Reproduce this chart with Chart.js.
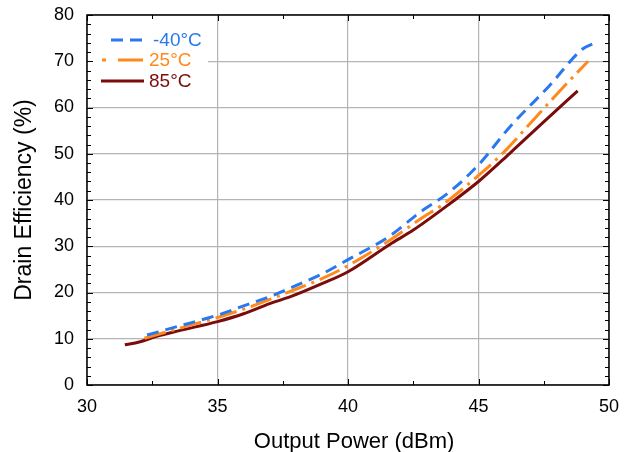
<!DOCTYPE html>
<html>
<head>
<meta charset="utf-8">
<script src="https://cdn.jsdelivr.net/npm/chart.js@4.4.1/dist/chart.umd.min.js"></script>
<style>
  html, body { margin: 0; padding: 0; background: #fff; }
  #wrap { width: 633px; height: 452px; }
</style>
</head>
<body>
<div id="wrap"><canvas id="ChartEff"></canvas></div>
<script>
// output power (dBm) and drain efficiency (%) per temperature
const powerCold = [32.3, 33.5, 35, 36, 37, 38, 39, 40, 41.6, 42.7, 43.9, 45, 46.2, 47.7, 49.0, 49.4];
const effCold   = [10.8, 12.7, 15.1, 17.1, 19.1, 21.5, 24.0, 27.1, 32.2, 37.1, 41.8, 47.6, 55.8, 64.6, 72.7, 73.8];

const powerRoom = [32.2, 33.5, 35, 36, 37, 38, 39, 40, 41.6, 42.8, 43.6, 45, 46, 47.1, 48.4, 49.2];
const effRoom   = [10.1, 12.2, 14.6, 16.4, 18.5, 20.7, 23.0, 25.8, 31.3, 36.0, 38.9, 45.3, 50.5, 57.3, 65.3, 70.0];

const powerHot = [31.45, 32.0, 32.6, 33.5, 35, 36, 37, 37.8, 39, 40, 41.6, 42.5, 43.9, 45, 46.2, 47.5, 48.8];
const effHot   = [8.7, 9.3, 10.4, 11.7, 13.7, 15.4, 17.6, 19.1, 21.9, 24.5, 30.4, 33.5, 39.2, 44.0, 50.1, 56.9, 63.6];

const seriesNames = ['-40°C', '25°C', '85°C'];
const xTicks = [30, 35, 40, 45, 50];
const yTicks = [0, 10, 20, 30, 40, 50, 60, 70, 80];

const FONT = '"Liberation Sans", Arial, sans-serif';
const colCold = '#2a78f0';
const colRoom = '#ff8a1c';
const colHot = '#7a0c0c';
const dashCold = [12, 7];
const dashRoom = [22, 6, 3, 6];

function pts(xs, ys) {
    return xs.map((x, i) => ({ x: x, y: ys[i] }));
}

// box, inward ticks and the legend inside the plot
const frame = {
    id: 'frame',
    afterDatasetsDraw(chart) {
        const ctx = chart.ctx;
        const a = chart.chartArea;
        const xs = chart.scales.x;
        const ys = chart.scales.y;
        ctx.save();

        // legend
        ctx.fillStyle = '#fff';
        ctx.fillRect(a.left + 1, a.top + 1, 120, 84);
        const rows = [
            { y: a.top + 25, x0: a.left + 24, x1: a.left + 56, tx: a.left + 66, col: colCold, dash: dashCold },
            { y: a.top + 45, x0: a.left + 15, x1: a.left + 56, tx: a.left + 62, col: colRoom, dash: [4, 12, 26] },
            { y: a.top + 66, x0: a.left + 14, x1: a.left + 57, tx: a.left + 62, col: colHot, dash: [] }
        ];
        rows.forEach((r, i) => {
            ctx.beginPath();
            ctx.strokeStyle = r.col;
            ctx.lineWidth = 3;
            ctx.setLineDash(r.dash);
            ctx.moveTo(r.x0, r.y);
            ctx.lineTo(r.x1, r.y);
            ctx.stroke();
            ctx.setLineDash([]);
            ctx.fillStyle = r.col;
            ctx.font = '19px ' + FONT;
            ctx.textBaseline = 'middle';
            ctx.fillText(seriesNames[i], r.tx, r.y + 1);
        });

        ctx.strokeStyle = '#000';
        ctx.lineWidth = 1;
        // minor + major ticks on x (bottom and top)
        for (let v = 30; v <= 50; v += 2.5) {
            const px = Math.round(xs.getPixelForValue(v)) + 0.5;
            const len = (v % 5 === 0) ? 6 : 4;
            ctx.beginPath();
            ctx.moveTo(px, a.bottom); ctx.lineTo(px, a.bottom - len);
            ctx.moveTo(px, a.top); ctx.lineTo(px, a.top + len);
            ctx.stroke();
        }
        // ticks on y (left and right)
        for (let v = 0; v <= 80; v += 2) {
            const py = Math.round(ys.getPixelForValue(v)) + 0.5;
            const len = (v % 10 === 0) ? 6 : 4;
            ctx.beginPath();
            ctx.moveTo(a.left, py); ctx.lineTo(a.left + len, py);
            ctx.moveTo(a.right, py); ctx.lineTo(a.right - len, py);
            ctx.stroke();
        }
        ctx.lineWidth = 1.5;
        ctx.strokeRect(a.left, a.top, a.right - a.left, a.bottom - a.top);
        ctx.restore();
    }
};

const chartEff = new Chart(document.getElementById('ChartEff'), {
    type: 'scatter',
    data: {
        datasets: [
            {
                label: seriesNames[0],
                data: pts(powerCold, effCold),
                showLine: true,
                borderColor: colCold,
                borderWidth: 3,
                borderDash: dashCold,
                pointRadius: 0,
                cubicInterpolationMode: 'monotone'
            },
            {
                label: seriesNames[1],
                data: pts(powerRoom, effRoom),
                showLine: true,
                borderColor: colRoom,
                borderWidth: 3,
                borderDash: dashRoom,
                pointRadius: 0,
                cubicInterpolationMode: 'monotone'
            },
            {
                label: seriesNames[2],
                data: pts(powerHot, effHot),
                showLine: true,
                borderColor: colHot,
                borderWidth: 3,
                pointRadius: 0,
                cubicInterpolationMode: 'monotone'
            }
        ]
    },
    options: {
        responsive: true,
        maintainAspectRatio: false,
        animation: false,
        layout: { padding: { top: 15, right: 24, left: 0, bottom: 0 } },
        plugins: {
            legend: { display: false },
            tooltip: { enabled: false }
        },
        scales: {
            x: {
                type: 'linear',
                min: 30,
                max: 50,
                afterBuildTicks: (s) => { s.ticks = xTicks.map(v => ({ value: v })); },
                afterFit: (s) => { s.height = 67; s.paddingLeft = 0; s.paddingRight = 0; },
                grid: { color: '#b4b4b4', lineWidth: 1.2, drawTicks: false },
                border: { display: false },
                ticks: { color: '#000', padding: 11, font: { family: FONT, size: 18 } },
                title: {
                    display: true,
                    text: '  Output Power (dBm)',
                    color: '#000',
                    padding: { top: 0, bottom: -3 },
                    font: { family: FONT, size: 22 }
                }
            },
            y: {
                min: 0,
                max: 80,
                afterBuildTicks: (s) => { s.ticks = yTicks.map(v => ({ value: v })); },
                afterFit: (s) => { s.width = 87; s.paddingTop = 0; s.paddingBottom = 0; },
                grid: { color: '#b4b4b4', lineWidth: 1.2, drawTicks: false },
                border: { display: false },
                ticks: { color: '#000', padding: 13, font: { family: FONT, size: 18 } },
                title: {
                    display: true,
                    text: 'Drain Efficiency (%)',
                    color: '#000',
                    padding: { top: 11, bottom: 0 },
                    font: { family: FONT, size: 23 }
                }
            }
        }
    },
    plugins: [frame]
});
</script>
</body>
</html>
